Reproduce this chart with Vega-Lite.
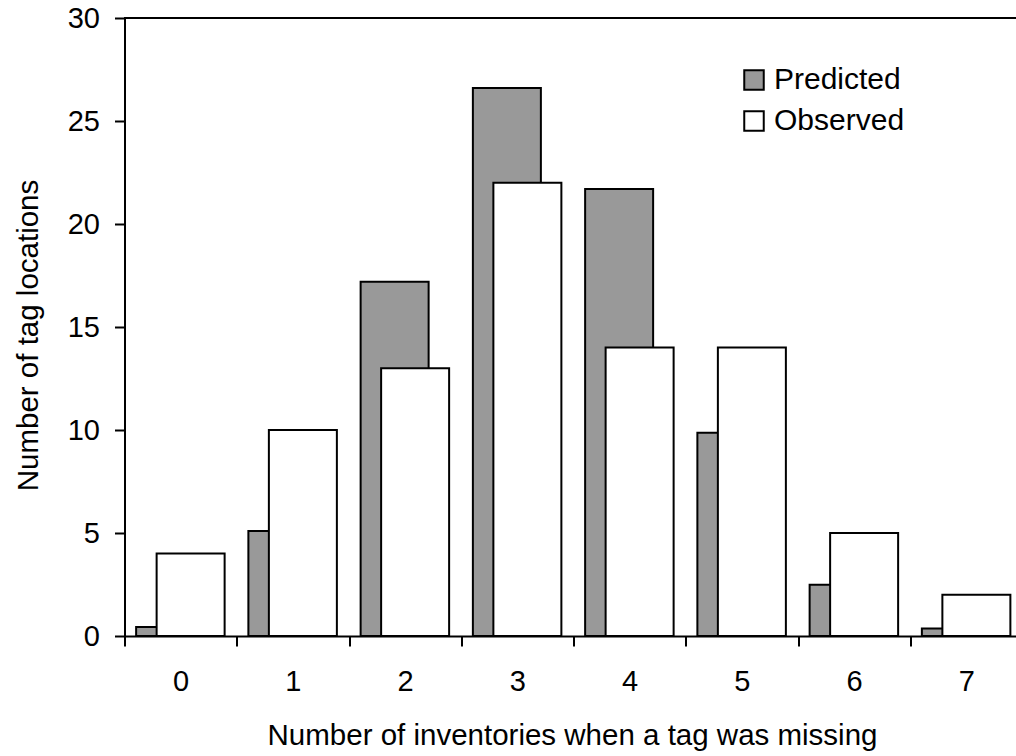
{
  "$schema": "https://vega.github.io/schema/vega-lite/v6.json",
  "width": 892,
  "height": 618,
  "autosize": {"type": "none"},
  "padding": {"left": 124.5, "top": 18, "right": 0, "bottom": 120},
  "background": "white",
  "config": {
    "view": {"stroke": null},
    "font": "Liberation Sans",
    "axis": {
      "domainColor": "black",
      "domainWidth": 2,
      "tickColor": "black",
      "tickWidth": 2,
      "tickSize": 10,
      "labelColor": "black",
      "labelFontSize": 29,
      "titleColor": "black",
      "titleFontSize": 29.5,
      "titleFontWeight": "normal",
      "grid": false
    }
  },
  "data": {
    "values": [
      {"inventories": "0", "series": "Predicted", "count": 0.44},
      {"inventories": "1", "series": "Predicted", "count": 5.1},
      {"inventories": "2", "series": "Predicted", "count": 17.2},
      {"inventories": "3", "series": "Predicted", "count": 26.6},
      {"inventories": "4", "series": "Predicted", "count": 21.7},
      {"inventories": "5", "series": "Predicted", "count": 9.87},
      {"inventories": "6", "series": "Predicted", "count": 2.49},
      {"inventories": "7", "series": "Predicted", "count": 0.37},
      {"inventories": "0", "series": "Observed", "count": 4},
      {"inventories": "1", "series": "Observed", "count": 10},
      {"inventories": "2", "series": "Observed", "count": 13},
      {"inventories": "3", "series": "Observed", "count": 22},
      {"inventories": "4", "series": "Observed", "count": 14},
      {"inventories": "5", "series": "Observed", "count": 14},
      {"inventories": "6", "series": "Observed", "count": 5},
      {"inventories": "7", "series": "Observed", "count": 2}
    ]
  },
  "layer": [
    {
      "transform": [{"filter": "datum.series === 'Predicted'"}],
      "mark": {"type": "bar", "width": 68, "xOffset": -10.5, "stroke": "black", "strokeWidth": 2},
      "encoding": {
        "x": {
          "field": "inventories", "type": "ordinal",
          "scale": {"type": "band", "range": [0, 898], "paddingInner": 0, "paddingOuter": 0},
          "axis": {
            "title": "Number of inventories when a tag was missing",
            "labelAngle": 0,
            "tickBand": "extent",
            "labelPadding": 21,
            "titleX": 447.5,
            "titleY": 108,
            "titleAlign": "center",
            "titleBaseline": "alphabetic"
          }
        },
        "y": {
          "field": "count", "type": "quantitative",
          "scale": {"domain": [0, 30], "nice": false},
          "axis": {
            "title": "Number of tag locations",
            "values": [0, 5, 10, 15, 20, 25, 30],
            "labelPadding": 15,
            "titleX": -87,
            "titleY": 317,
            "titleAlign": "center",
            "titleBaseline": "alphabetic"
          }
        },
        "fill": {
          "field": "series", "type": "nominal",
          "scale": {"domain": ["Predicted", "Observed"], "range": ["#999999", "#ffffff"]},
          "legend": {
            "orient": "none",
            "legendX": 614.5,
            "legendY": 47,
            "title": null,
            "padding": 0,
            "symbolType": "square",
            "symbolSize": 380,
            "symbolStrokeColor": "black",
            "symbolStrokeWidth": 2,
            "symbolOpacity": 1,
            "labelFontSize": 30,
            "labelColor": "black",
            "labelOffset": 5,
            "rowPadding": 11
          }
        }
      }
    },
    {
      "transform": [{"filter": "datum.series === 'Observed'"}],
      "mark": {"type": "bar", "width": 68, "xOffset": 10, "stroke": "black", "strokeWidth": 2},
      "encoding": {
        "x": {"field": "inventories", "type": "ordinal"},
        "y": {"field": "count", "type": "quantitative"},
        "fill": {"field": "series", "type": "nominal"}
      }
    },
    {
      "mark": {"type": "rule", "color": "black", "strokeWidth": 2},
      "encoding": {"y": {"datum": 30}}
    }
  ]
}
